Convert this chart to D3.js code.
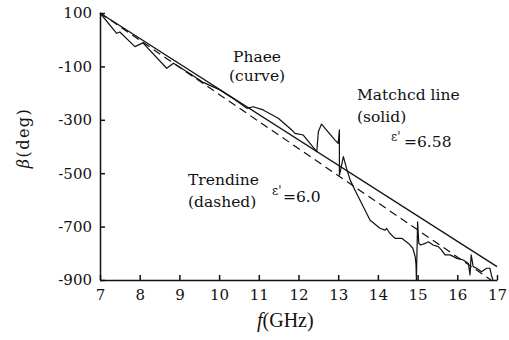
<!DOCTYPE html>
<html>
<head>
<meta charset="utf-8">
<script src="https://cdn.jsdelivr.net/npm/d3@7"></script>
<style>
  body { margin: 0; background: #fff; }
  svg text { font-family: "DejaVu Serif", "Liberation Serif", serif; fill: #111; }
  .axis path, .axis line { stroke: #111; stroke-width: 1.5; }
  .axis text { font-size: 15px; }
  .note { font-size: 15.5px; }
</style>
</head>
<body>
<div id="vis"></div>
<script>
// Phase curve (GHz, deg)
var phaseFreq = [7, 7.42, 7.5, 7.88, 8.08, 8.68, 8.85, 9.3, 9.6, 10.02, 10.4, 10.7, 10.86, 11.11, 11.49,
  11.83, 11.91, 12.12, 12.46, 12.5, 12.58, 12.92, 13.0, 13.03, 13.03, 13.05, 13.13, 13.21, 13.3,
  13.42, 13.63, 13.8, 14.05, 14.18, 14.22, 14.3, 14.43, 14.6, 14.77, 14.88, 14.94, 14.96, 14.97,
  15.0, 15.03, 15.08, 15.19, 15.27, 15.39, 15.52, 15.6, 15.69, 15.82, 15.99, 16.15, 16.28, 16.32,
  16.35, 16.4, 16.49, 16.61, 16.74, 16.82, 16.87, 16.9];
var phaseDeg = [100, 24, 29, -26, -12, -107, -88, -130, -160, -188, -225, -257, -251, -263, -294,
  -338, -351, -357, -419, -345, -316, -376, -388, -338, -507, -496, -438, -482, -525,
  -563, -625, -675, -706, -713, -707, -725, -744, -744, -763, -781, -813, -844, -900,
  -682, -763, -769, -763, -757, -769, -775, -787, -806, -806, -819, -825, -838, -881,
  -806, -850, -856, -869, -856, -856, -888, -900];

// Matched line (solid), eps' = 6.58
var matchedFreq = [7, 17];
var matchedDeg = [100, -850];

// Trend line (dashed), eps' = 6.0
var trendFreq = [7, 16.85];
var trendDeg = [100, -900];

var xTicks = [7, 8, 9, 10, 11, 12, 13, 14, 15, 16, 17];
var yTicks = [100, -100, -300, -500, -700, -900];

var width = 509, height = 340;
var margin = { left: 100, right: 12, top: 13, bottom: 60 };

var svg = d3.select('#vis').append('svg')
  .attr('width', width)
  .attr('height', height);

var xScale = d3.scaleLinear().domain([7, 17]).range([margin.left, 497]);
var yScale = d3.scaleLinear().domain([-900, 100]).range([height - margin.bottom, margin.top]);

var toPoints = function (fs, ds) {
  return fs.map(function (f, i) { return [f, ds[i]]; });
};

var line = d3.line()
  .x(function (d) { return xScale(d[0]); })
  .y(function (d) { return yScale(d[1]); });

// plain hyphen for negatives, like the original
var plain = function (d) { return String(d); };

// Axes with inward ticks
var xAxis = d3.axisBottom(xScale)
  .tickValues(xTicks)
  .tickFormat(plain)
  .tickSizeInner(-5)
  .tickSizeOuter(0)
  .tickPadding(9);

var yAxis = d3.axisLeft(yScale)
  .tickValues(yTicks)
  .tickFormat(plain)
  .tickSizeInner(-5)
  .tickSizeOuter(0)
  .tickPadding(8);

svg.append('g')
  .attr('class', 'axis')
  .attr('transform', 'translate(0,' + yScale(-900) + ')')
  .call(xAxis);

svg.append('g')
  .attr('class', 'axis')
  .attr('transform', 'translate(' + xScale(7) + ',0)')
  .call(yAxis);

// Lines
svg.append('path')
  .datum(toPoints(trendFreq, trendDeg))
  .attr('d', line)
  .attr('fill', 'none')
  .attr('stroke', '#111')
  .attr('stroke-width', 1.2)
  .attr('stroke-dasharray', '8,5');

svg.append('path')
  .datum(toPoints(matchedFreq, matchedDeg))
  .attr('d', line)
  .attr('fill', 'none')
  .attr('stroke', '#111')
  .attr('stroke-width', 1.3);

svg.append('path')
  .datum(toPoints(phaseFreq, phaseDeg))
  .attr('d', line)
  .attr('fill', 'none')
  .attr('stroke', '#111')
  .attr('stroke-width', 1.2)
  .attr('stroke-linejoin', 'round');

// Annotations
var note = function (x, y, txt, size) {
  return svg.append('text')
    .attr('class', 'note')
    .attr('x', x)
    .attr('y', y)
    .style('font-size', size ? size + 'px' : null)
    .text(txt);
};

note(233, 62, 'Phaee');
note(229, 81, '(curve)');
note(357, 100, 'Matchcd line');
note(357, 122, '(solid)');
note(391, 141, "\u03b5'", 12);
note(404, 147, '=6.58');
note(188, 185, 'Trendine');
note(188, 207, '(dashed)');
note(272, 195, "\u03b5'", 12);
note(283, 201.5, '=6.0');

// Axis titles
var xt = svg.append('text')
  .attr('x', 257)
  .attr('y', 327)
  .style('font-family', '"Liberation Serif", serif')
  .style('font-size', '20px');
xt.append('tspan').style('font-style', 'italic').text('f');
xt.append('tspan').text('(GHz)');

var yt = svg.append('text')
  .attr('transform', 'translate(29,138) rotate(-90)')
  .attr('text-anchor', 'middle')
  .style('font-size', '16px')
  .style('letter-spacing', '1.5px');
yt.append('tspan').style('font-style', 'italic').text('\u03b2');
yt.append('tspan').text('(deg)');
</script>
</body>
</html>
